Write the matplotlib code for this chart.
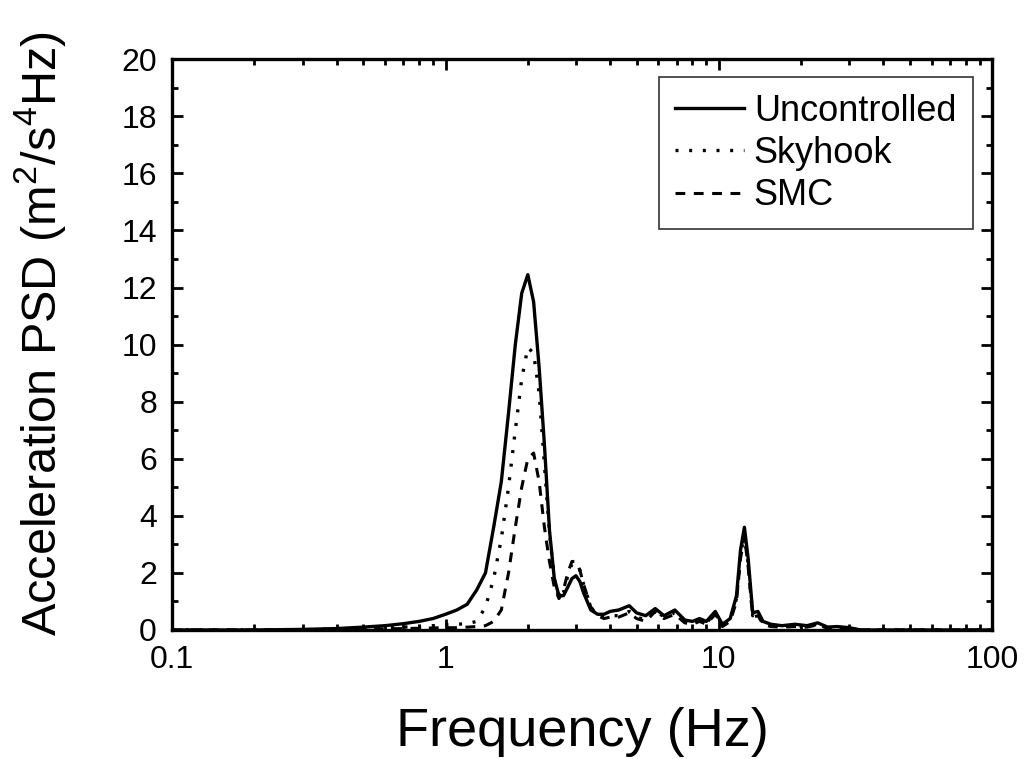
import matplotlib.pyplot as plt
from matplotlib.ticker import MultipleLocator, LogLocator, NullFormatter, FixedLocator, FixedFormatter

plt.rcParams['font.family'] = ['Liberation Sans', 'DejaVu Sans']

# frequency grid (Hz) and PSD of body acceleration for each controller
freq = [0.1, 0.2, 0.3, 0.4, 0.5, 0.6, 0.7, 0.8, 0.9, 1.0, 1.1, 1.2, 1.3, 1.4,
        1.5, 1.6, 1.7, 1.8, 1.9, 2.0, 2.1, 2.2, 2.3, 2.4, 2.5, 2.6, 2.7, 2.8,
        2.9, 3.0, 3.1, 3.2, 3.4, 3.6, 3.8, 4.0, 4.3, 4.7, 5.0, 5.4, 5.85, 6.3,
        6.9, 7.5, 8.0, 8.5, 9.0, 9.7, 10.3, 11.0, 11.6, 12.0, 12.4, 12.8,
        13.3, 13.9, 14.5, 15.5, 17, 19, 21, 23, 25, 27, 30, 33, 40, 100]

uncontrolled = [0, 0, 0.02, 0.05, 0.1, 0.15, 0.22, 0.3, 0.4, 0.55, 0.7, 0.9,
                1.4, 2.0, 3.6, 5.2, 7.6, 10.0, 11.8, 12.45, 11.5, 9.2, 6.5,
                3.5, 1.8, 1.2, 1.2, 1.5, 1.8, 1.9, 1.7, 1.3, 0.7, 0.55, 0.55,
                0.65, 0.7, 0.85, 0.6, 0.5, 0.75, 0.5, 0.7, 0.35, 0.3, 0.4,
                0.3, 0.65, 0.2, 0.4, 1.2, 2.8, 3.6, 2.5, 0.6, 0.65, 0.3, 0.2,
                0.15, 0.2, 0.15, 0.25, 0.1, 0.12, 0.08, 0, 0, 0]

skyhook = [0, 0, 0.01, 0.03, 0.05, 0.08, 0.1, 0.12, 0.15, 0.18, 0.2, 0.22,
           0.3, 0.8, 1.8, 3.2, 5.0, 7.0, 8.8, 9.9, 9.7, 8.3, 5.8, 3.4, 1.8,
           1.1, 1.3, 1.9, 2.3, 2.35, 2.1, 1.6, 0.8, 0.5, 0.45, 0.5, 0.5,
           0.65, 0.45, 0.35, 0.7, 0.45, 0.6, 0.3, 0.25, 0.35, 0.25, 0.6,
           0.15, 0.35, 1.1, 2.6, 3.4, 2.3, 0.5, 0.55, 0.25, 0.15, 0.12,
           0.15, 0.12, 0.2, 0.08, 0.1, 0.06, 0, 0, 0]

smc = [0, 0, 0.01, 0.02, 0.03, 0.04, 0.05, 0.06, 0.07, 0.08, 0.08, 0.1,
       0.12, 0.15, 0.3, 0.7, 2.0, 3.6, 5.0, 6.0, 6.2, 5.2, 3.6, 2.4, 1.5,
       1.1, 1.4, 2.0, 2.4, 2.4, 2.1, 1.6, 0.8, 0.5, 0.4, 0.45, 0.45, 0.6,
       0.4, 0.3, 0.65, 0.4, 0.55, 0.25, 0.2, 0.3, 0.2, 0.55, 0.12, 0.3,
       1.0, 2.5, 3.3, 2.2, 0.45, 0.5, 0.2, 0.12, 0.1, 0.12, 0.1, 0.18,
       0.06, 0.08, 0.05, 0, 0, 0]

fig = plt.figure(figsize=(10.25, 7.59), dpi=100)
ax = fig.add_axes([0.168, 0.170, 0.800, 0.752])

ax.plot(freq, uncontrolled, color='black', lw=2.4, ls='-', label='Uncontrolled')
ax.plot(freq, skyhook, color='black', lw=2.4, ls=(0, (0.9, 3.2)), label='Skyhook')
ax.plot(freq, smc, color='black', lw=2.2, ls=(0, (3.2, 2.8)), label='SMC')

ax.set_xscale('log')
ax.set_xlim(0.1, 100)
ax.set_ylim(0, 20)

ax.xaxis.set_major_locator(FixedLocator([0.1, 1, 10, 100]))
ax.xaxis.set_major_formatter(FixedFormatter(['0.1', '1', '10', '100']))
ax.xaxis.set_minor_locator(LogLocator(base=10, subs=range(2, 10)))
ax.xaxis.set_minor_formatter(NullFormatter())
ax.yaxis.set_major_locator(MultipleLocator(2))
ax.yaxis.set_minor_locator(MultipleLocator(1))

ax.tick_params(which='both', direction='in', top=True, right=True,
               labelsize=23, width=2)
ax.tick_params(axis='y', pad=11)
ax.tick_params(axis='x', pad=11)
ax.tick_params(which='major', length=8)
ax.tick_params(which='minor', length=4)
for s in ax.spines.values():
    s.set_linewidth(2.4)

ax.set_xlabel('Frequency (Hz)', fontsize=39)
ax.set_ylabel('Acceleration PSD $\\mathregular{(m^2/s^4Hz)}$', fontsize=35)
ax.xaxis.set_label_coords(0.5, -0.135)
ax.yaxis.set_label_coords(-0.127, 0.52)

leg = ax.legend(loc='upper right', fontsize=26, handlelength=1.9, handletextpad=0.28,
                labelspacing=0.2, borderpad=0.45, borderaxespad=0, fancybox=False,
                bbox_to_anchor=(0.976, 0.968))
leg.get_frame().set_edgecolor('black')
leg.get_frame().set_linewidth(1.2)

plt.savefig('out.png', dpi=100)
